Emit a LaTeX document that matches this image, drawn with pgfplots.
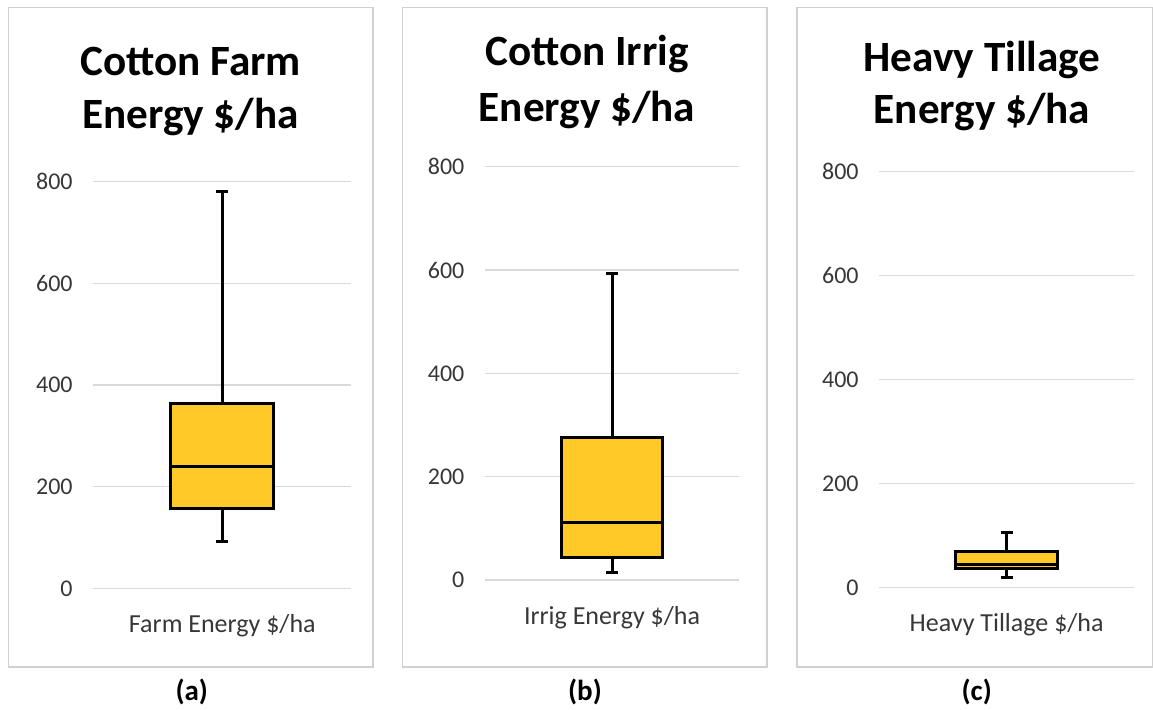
\documentclass[border=0pt]{standalone}
\usepackage{pgfplots}
\pgfplotsset{compat=1.18}
\usepackage{fontspec}
\setmainfont{Carlito}
\definecolor{boxfill}{RGB}{255,202,40}
\definecolor{gridc}{RGB}{217,217,217}
\definecolor{framec}{RGB}{208,208,208}
\definecolor{txt}{RGB}{55,55,55}
\pgfplotsset{
  panel/.style={
    scale only axis, anchor=south west, clip=false,
    xmin=0, xmax=2, ymin=0, ymax=800,
    ytick={0,200,400,600,800}, xtick={1},
    ymajorgrids, grid style={gridc, line width=0.6pt},
    axis line style={draw=none}, tick style={draw=none},
    /pgf/number format/assume math mode=true,
    yticklabel style={anchor=east, xshift=-6.8pt, font=\fontsize{12}{14}\selectfont, text=txt},
    xticklabel style={anchor=base, yshift=-22pt, font=\fontsize{13}{15}\selectfont, text=txt},
  },
  bxf/.style={draw=black, line width=1.5pt, fill=boxfill, line cap=rect, line join=miter, mark=none},
  bxl/.style={draw=black, line width=1.5pt, mark=none},
}
\begin{document}
\begin{tikzpicture}
\useasboundingbox (0,0) rectangle (576.5pt,-354.5pt);
% frames
\draw[framec, line width=0.8pt] (4.15pt,-3.65pt) rectangle (186.35pt,-333.35pt);
\draw[framec, line width=0.8pt] (201.15pt,-3.65pt) rectangle (383.35pt,-333.35pt);
\draw[framec, line width=0.8pt] (398.5pt,-3.65pt) rectangle (576.6pt,-333.35pt);

% panel (a): lower whisker 92, Q1 157, median 240, Q3 364, upper whisker 780
\begin{axis}[panel, at={(46.65pt,-294.15pt)}, width=129pt, height=203.3pt,
  xticklabels={Farm Energy \$/ha}]
\addplot[bxl] coordinates {(1,364) (1,780)};
\addplot[bxl] coordinates {(1,157) (1,92)};
\addplot[bxl] coordinates {(0.953,780) (1.047,780)};
\addplot[bxl] coordinates {(0.953,92) (1.047,92)};
\addplot[bxf] coordinates {(0.6,157) (1.4,157) (1.4,364) (0.6,364) (0.6,157)};
\addplot[bxl] coordinates {(0.6,240) (1.4,240)};
\end{axis}

% panel (b): lower whisker 14, Q1 44, median 111, Q3 276, upper whisker 594
\begin{axis}[panel, at={(242.5pt,-290pt)}, width=127pt, height=206.65pt,
  xticklabels={Irrig Energy \$/ha}]
\addplot[bxl] coordinates {(1,276) (1,594)};
\addplot[bxl] coordinates {(1,44) (1,14)};
\addplot[bxl] coordinates {(0.953,594) (1.047,594)};
\addplot[bxl] coordinates {(0.953,14) (1.047,14)};
\addplot[bxf] coordinates {(0.6,44) (1.4,44) (1.4,276) (0.6,276) (0.6,44)};
\addplot[bxl] coordinates {(0.6,111) (1.4,111)};
\end{axis}

% panel (c): lower whisker 18, Q1 37, median 43, Q3 69, upper whisker 105
\begin{axis}[panel, at={(439.65pt,-293.65pt)}, width=127.35pt, height=208pt,
  xticklabels={Heavy Tillage \$/ha}]
\addplot[bxl] coordinates {(1,69) (1,105)};
\addplot[bxl] coordinates {(1,37) (1,18)};
\addplot[bxl] coordinates {(0.953,105) (1.047,105)};
\addplot[bxl] coordinates {(0.953,18) (1.047,18)};
\addplot[bxf] coordinates {(0.6,37) (1.4,37) (1.4,69) (0.6,69) (0.6,37)};
\addplot[bxl] coordinates {(0.6,43) (1.4,43)};
\end{axis}

% titles
\begin{scope}[every node/.style={anchor=base, inner sep=0pt, font=\bfseries\fontsize{21.6}{26}\selectfont}]
\node at (95.25pt,-37.5pt) {Cotton Farm};
\node at (95.25pt,-64.15pt) {Energy \$/ha};
\node at (293.5pt,-32.5pt) {Cotton Irrig};
\node at (293.5pt,-60.85pt) {Energy \$/ha};
\node at (491pt,-35.85pt) {Heavy Tillage};
\node at (491pt,-61.65pt) {Energy \$/ha};
\end{scope}
% sub labels
\begin{scope}[every node/.style={anchor=base, inner sep=0pt, font=\bfseries\fontsize{14.5}{16}\selectfont}]
\node at (95.85pt,-350pt) {(a)};
\node at (292.5pt,-350pt) {(b)};
\node at (488.35pt,-350pt) {(c)};
\end{scope}
\end{tikzpicture}
\end{document}
